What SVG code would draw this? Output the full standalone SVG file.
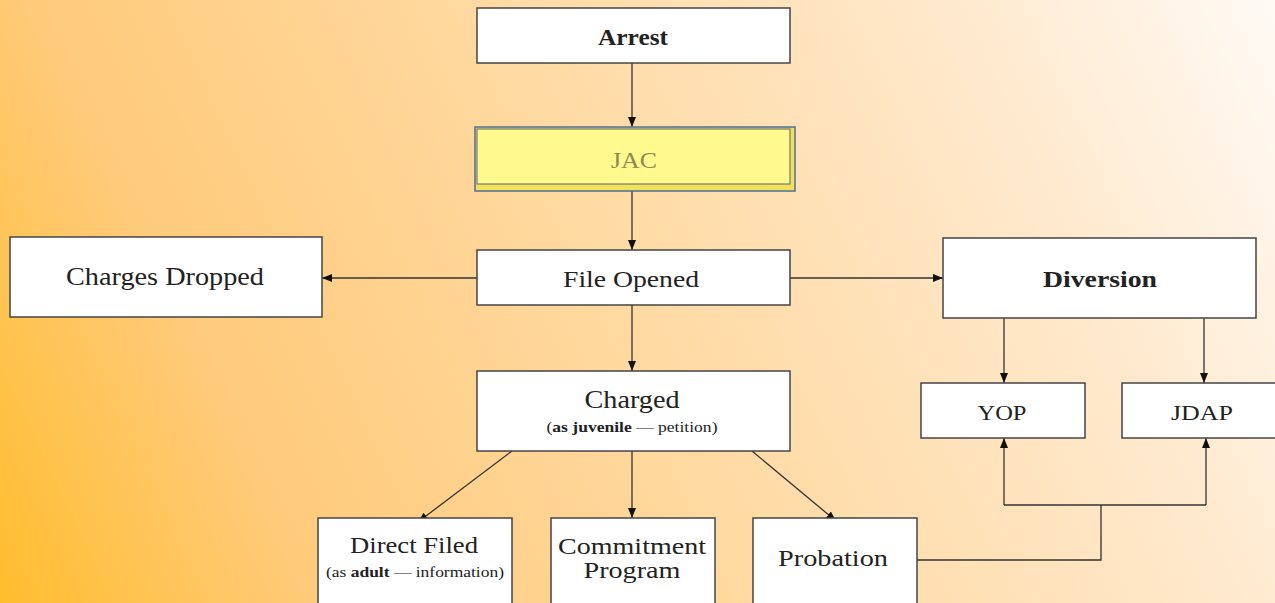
<svg xmlns="http://www.w3.org/2000/svg" width="1275" height="603" viewBox="0 0 1275 603">
  <defs>
    <linearGradient id="bg" gradientUnits="userSpaceOnUse" x1="0" y1="603" x2="1275" y2="0">
      <stop offset="0" stop-color="#FFBD2E"/>
      <stop offset="0.2" stop-color="#FFCA7A"/>
      <stop offset="0.5" stop-color="#FFDAA3"/>
      <stop offset="0.78" stop-color="#FFE8CB"/>
      <stop offset="1" stop-color="#FFFAF5"/>
    </linearGradient>
    <marker id="arr" viewBox="0 0 10 10" refX="10" refY="5" markerWidth="10" markerHeight="10" markerUnits="userSpaceOnUse" orient="auto">
      <path d="M0,1 L10,5 L0,9 Z" fill="#111"/>
    </marker>
    <style>
      .box { fill: #FFFFFF; stroke: #444; stroke-width: 1.5; }
      text { font-family: 'Liberation Serif', 'DejaVu Serif', serif; fill: #222; text-anchor: middle; }
      .b { font-weight: bold; }
      .c { fill: none; stroke: #333; stroke-width: 1.3; }
      .ca { fill: none; stroke: #333; stroke-width: 1.3; marker-end: url(#arr); }
    </style>
  </defs>
  <rect x="0" y="0" width="1275" height="603" fill="url(#bg)"/>

  <g id="connectors">
    <line class="ca" x1="632" y1="63" x2="632" y2="127"/>
    <line class="ca" x1="632" y1="191" x2="632" y2="250"/>
    <line class="ca" x1="477" y1="278" x2="322" y2="278"/>
    <line class="ca" x1="790" y1="278" x2="943" y2="278"/>
    <line class="ca" x1="632" y1="305" x2="632" y2="371"/>
    <line class="ca" x1="1004" y1="318" x2="1004" y2="383"/>
    <line class="ca" x1="1204" y1="318" x2="1204" y2="383"/>
    <line class="ca" x1="512" y1="451" x2="418" y2="522"/>
    <line class="ca" x1="632" y1="451" x2="632" y2="518"/>
    <line class="ca" x1="752" y1="451" x2="836" y2="521"/>
    <polyline class="c" points="917,560 1101,560 1101,505"/>
    <line class="c" x1="1004" y1="505" x2="1206" y2="505"/>
    <line class="ca" x1="1004" y1="505" x2="1004" y2="438"/>
    <line class="ca" x1="1206" y1="505" x2="1206" y2="438"/>
  </g>

  <g id="arrest">
    <rect class="box" x="477" y="8" width="313" height="55"/>
    <text class="b" font-family="Liberation Serif, serif" x="633" y="45" font-size="23" textLength="70" lengthAdjust="spacingAndGlyphs">Arrest</text>
  </g>

  <g id="jac">
    <rect x="475" y="127" width="320" height="64" fill="#F2E25A" stroke="#4E6E9A" stroke-width="1.5"/>
    <rect x="477" y="129" width="313" height="55" fill="#FFF98E" stroke="#777" stroke-width="1.2"/>
    <text font-family="Liberation Serif, serif" x="634" y="168" font-size="24" style="fill:#8C8A55" textLength="46" lengthAdjust="spacingAndGlyphs">JAC</text>
  </g>

  <g id="file-opened">
    <rect class="box" x="477" y="250" width="313" height="55"/>
    <text font-family="Liberation Serif, serif" x="631" y="287" font-size="23" textLength="136" lengthAdjust="spacingAndGlyphs">File Opened</text>
  </g>

  <g id="charges-dropped">
    <rect class="box" x="10" y="237" width="312" height="80"/>
    <text font-family="Liberation Serif, serif" x="165" y="285" font-size="25" textLength="198" lengthAdjust="spacingAndGlyphs">Charges Dropped</text>
  </g>

  <g id="diversion">
    <rect class="box" x="943" y="238" width="313" height="80"/>
    <text class="b" font-family="Liberation Serif, serif" x="1100" y="287" font-size="23" textLength="114" lengthAdjust="spacingAndGlyphs">Diversion</text>
  </g>

  <g id="yop">
    <rect class="box" x="921" y="383" width="164" height="55"/>
    <text font-family="Liberation Serif, serif" x="1002" y="420" font-size="22" textLength="49" lengthAdjust="spacingAndGlyphs">YOP</text>
  </g>

  <g id="jdap">
    <rect class="box" x="1122" y="383" width="160" height="55"/>
    <text font-family="Liberation Serif, serif" x="1202" y="420" font-size="22" textLength="62" lengthAdjust="spacingAndGlyphs">JDAP</text>
  </g>

  <g id="charged">
    <rect class="box" x="477" y="371" width="313" height="80"/>
    <text font-family="Liberation Serif, serif" x="632" y="408" font-size="25" textLength="95" lengthAdjust="spacingAndGlyphs">Charged</text>
    <text font-family="Liberation Serif, serif" x="632" y="432" font-size="15" textLength="171" lengthAdjust="spacingAndGlyphs">(<tspan font-weight="bold">as juvenile</tspan> — petition)</text>
  </g>

  <g id="direct-filed">
    <rect class="box" x="318" y="518" width="194" height="90"/>
    <text font-family="Liberation Serif, serif" x="414" y="553" font-size="23" textLength="128" lengthAdjust="spacingAndGlyphs">Direct Filed</text>
    <text font-family="Liberation Serif, serif" x="415" y="577" font-size="15" textLength="178" lengthAdjust="spacingAndGlyphs">(as <tspan font-weight="bold">adult</tspan> — information)</text>
  </g>

  <g id="commitment-program">
    <rect class="box" x="551" y="518" width="164" height="90"/>
    <text font-family="Liberation Serif, serif" x="632" y="554" font-size="23" textLength="148" lengthAdjust="spacingAndGlyphs">Commitment</text>
    <text font-family="Liberation Serif, serif" x="632" y="578" font-size="23" textLength="97" lengthAdjust="spacingAndGlyphs">Program</text>
  </g>

  <g id="probation">
    <rect class="box" x="753" y="518" width="164" height="90"/>
    <text font-family="Liberation Serif, serif" x="833" y="566" font-size="23" textLength="110" lengthAdjust="spacingAndGlyphs">Probation</text>
  </g>
</svg>
